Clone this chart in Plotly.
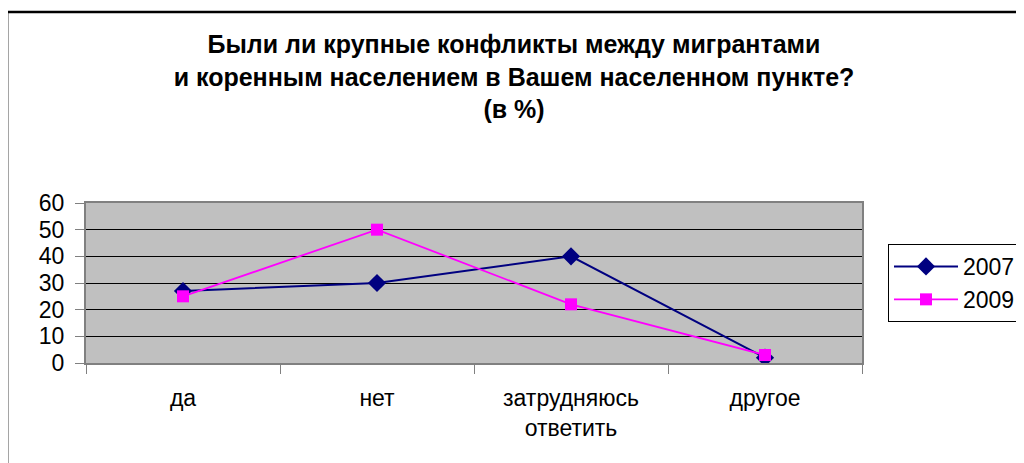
import plotly.graph_objects as go

categories = ["да", "нет", "затрудняюсь<br>ответить", "другое"]
values_2007 = [27, 30, 40, 2]
values_2009 = [25, 50, 22, 3]
series_names = ["2007", "2009"]
y_ticks = [0, 10, 20, 30, 40, 50, 60]
title_text = ("<b>Были ли крупные конфликты между мигрантами<br>"
              "и коренным населением в Вашем населенном пункте?<br>(в %)</b>")

FONT = "Liberation Sans, Arial, sans-serif"

# page body has an 8px margin, so figure pixel = screen pixel - 8
OFF = 8

def fx(p):
    return p - OFF

W, H = 1024, 463
L, T = fx(86), fx(203)
R, B = W - fx(863), H - fx(363)
pw, ph = W - L - R, H - T - B

def px_x(p):  # screen px -> paper x
    return (fx(p) - L) / pw

def px_y(p):  # screen px -> paper y
    return (H - B - fx(p)) / ph

fig = go.Figure()
fig.add_trace(go.Scatter(
    x=categories, y=values_2007, name=series_names[0], mode="lines+markers",
    line=dict(color="#000080", width=2),
    marker=dict(symbol="diamond", size=14, color="#000080"),
))
fig.add_trace(go.Scatter(
    x=categories, y=values_2009, name=series_names[1], mode="lines+markers",
    line=dict(color="#FF00FF", width=1.8),
    marker=dict(symbol="square", size=12, color="#FF00FF"),
))

fig.update_layout(
    width=W, height=H,
    margin=dict(l=L, r=R, t=T, b=B),
    paper_bgcolor="white",
    plot_bgcolor="#C0C0C0",
    font=dict(family=FONT, size=23, color="black"),
    title=dict(text=title_text, x=fx(514) / W, xanchor="center",
               y=1 - fx(53) / H, yanchor="middle",
               font=dict(family=FONT, size=25, color="black")),
    showlegend=True,
    legend=dict(x=px_x(888), y=px_y(244), xanchor="left", yanchor="top",
                bordercolor="black", borderwidth=1, bgcolor="white",
                font=dict(family=FONT, size=23), tracegroupgap=0,
                itemwidth=64),
    xaxis=dict(type="category", range=[-0.5, 3.5], tickson="boundaries",
               ticks="outside", ticklen=9, tickcolor="#808080", tickwidth=1,
               showline=True, linecolor="#808080", linewidth=2, mirror=True,
               showgrid=False, tickfont=dict(family=FONT, size=23),
               ticklabelstandoff=13, fixedrange=True),
    yaxis=dict(range=[0, 60], tickvals=y_ticks, ticks="outside", ticklen=9,
               tickcolor="#808080", tickwidth=1,
               showline=True, linecolor="#808080", linewidth=2, mirror=True,
               showgrid=True, gridcolor="black", gridwidth=1,
               zeroline=False, tickfont=dict(family=FONT, size=23),
               ticklabelstandoff=6, fixedrange=True),
)

fig.add_shape(type="rect", xref="paper", yref="paper",
              x0=px_x(7), x1=px_x(1040), y0=px_y(480), y1=px_y(12),
              line=dict(color="black", width=2.5), layer="above")

fig.write_html("out.html")
